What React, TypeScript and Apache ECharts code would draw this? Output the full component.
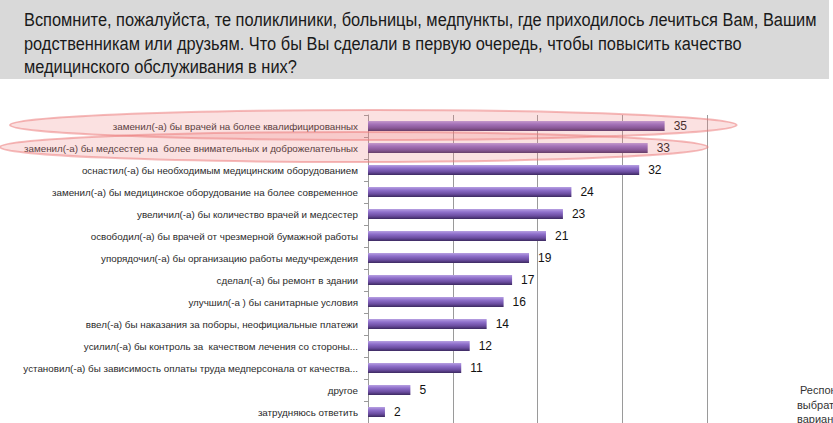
import React, { useEffect, useRef } from "react";
import * as echarts from "echarts";

const categories = [
  "заменил(-а) бы врачей на более квалифицированных",
  "заменил(-а) бы медсестер на  более внимательных и доброжелательных",
  "оснастил(-а) бы необходимым медицинским оборудованием",
  "заменил(-а) бы медицинское оборудование на более современное",
  "увеличил(-а) бы количество врачей и медсестер",
  "освободил(-а) бы врачей от чрезмерной бумажной работы",
  "упорядочил(-а) бы организацию работы медучреждения",
  "сделал(-а) бы ремонт в здании",
  "улучшил(-а ) бы санитарные условия",
  "ввел(-а) бы наказания за поборы, неофициальные платежи",
  "усилил(-а) бы контроль за  качеством лечения со стороны...",
  "установил(-а) бы зависимость оплаты труда медперсонала от качества...",
  "другое",
  "затрудняюсь ответить",
];
const values = [35, 33, 32, 24, 23, 21, 19, 17, 16, 14, 12, 11, 5, 2];
const highlighted = [0, 1];
const titleLines = [
  "Вспомните, пожалуйста, те поликлиники, больницы, медпункты, где приходилось лечиться Вам, Вашим",
  "родственникам или друзьям. Что бы Вы сделали в первую очередь, чтобы повысить качество",
  "медицинского обслуживания в них?",
];
const noteLines = ["Респондентам можно было", "выбрать несколько", "вариантов ответа"];

const TITLE_FONT = "19px 'Liberation Sans', Arial, sans-serif";

export default function App() {
  const ref = useRef<HTMLDivElement>(null);
  useEffect(() => {
    if (!ref.current) return;
    document.body.style.margin = "0";
    const canvas = document.createElement("canvas");
    const ctx = canvas.getContext("2d")!;
    ctx.font = TITLE_FONT;
    const firstWidth = ctx.measureText(titleLines[0]).width;
    const sx = firstWidth > 0 ? 793 / firstWidth : 0.85;

    const chart = echarts.init(ref.current, null, { renderer: "svg" });
    const barColor = new echarts.graphic.LinearGradient(0, 0, 0, 1, [
      { offset: 0, color: "#b7a0e2" },
      { offset: 0.3, color: "#8f70cb" },
      { offset: 0.7, color: "#6a4c9f" },
      { offset: 1, color: "#3c2960" },
    ]);
    chart.setOption({
      animation: false,
      backgroundColor: "#ffffff",
      grid: { left: 368, right: 126, top: 115, bottom: -7, containLabel: false },
      xAxis: {
        type: "value",
        min: 0,
        max: 40,
        interval: 10,
        axisLabel: { show: false },
        axisLine: { show: false },
        axisTick: { show: false },
        splitLine: { show: true, lineStyle: { color: "#9a9a9a", width: 1 } },
      },
      yAxis: {
        type: "category",
        inverse: true,
        data: categories,
        axisLine: { show: true, lineStyle: { color: "#9a9a9a" } },
        axisTick: { show: true, length: 4, lineStyle: { color: "#9a9a9a" } },
        axisLabel: {
          margin: 10,
          color: "#2a2a2a",
          fontSize: 9.8,
          fontFamily: "'Liberation Sans', Arial, sans-serif",
        },
      },
      series: [
        {
          type: "bar",
          data: values,
          barWidth: 10,
          itemStyle: { color: barColor },
          label: {
            show: true,
            position: "right",
            distance: 9,
            color: "#111",
            fontSize: 12,
            fontFamily: "'Liberation Sans', Arial, sans-serif",
          },
        },
      ],
    });
    const ells = highlighted.map((idx, k) => {
      const cy = chart.convertToPixel({ yAxisIndex: 0 }, categories[idx]) as number;
      const right = chart.convertToPixel({ xAxisIndex: 0 }, values[idx]) as number;
      const left = k === 0 ? 10 : 0;
      const rEdge = right + 72 - k * 12;
      return {
        type: "ellipse",
        shape: { cx: (left + rEdge) / 2, cy: cy - 1, rx: (rEdge - left) / 2, ry: 15 },
        style: {
          fill: "rgba(240,130,130,0.24)",
          stroke: "rgba(235,120,120,0.5)",
          lineWidth: 2,
        },
        z: 100,
      };
    });
    chart.setOption({
      graphic: [
        {
          type: "rect",
          shape: { x: 0, y: 0, width: 829, height: 79 },
          style: { fill: "#d9d9d9" },
          z: 0,
        },
        ...titleLines.map((t, i) => ({
          type: "text",
          x: 24,
          y: 20 + i * 23.5,
          scaleX: sx,
          style: {
            text: t,
            fill: "#1a1a1a",
            font: TITLE_FONT,
            textVerticalAlign: "middle",
          },
        })),
        ...noteLines.map((t, i) => ({
          type: "text",
          x: i === 0 ? 800 : 797,
          y: 390 + i * 14.5,
          style: {
            text: t,
            fill: "#333",
            font: "11px 'Liberation Sans', Arial, sans-serif",
            textVerticalAlign: "middle",
          },
        })),
        ...ells,
      ],
    });
    return () => chart.dispose();
  }, []);
  return (
    <div
      ref={ref}
      style={{ width: 833, height: 423, position: "absolute", left: 0, top: 0 }}
    />
  );
}
